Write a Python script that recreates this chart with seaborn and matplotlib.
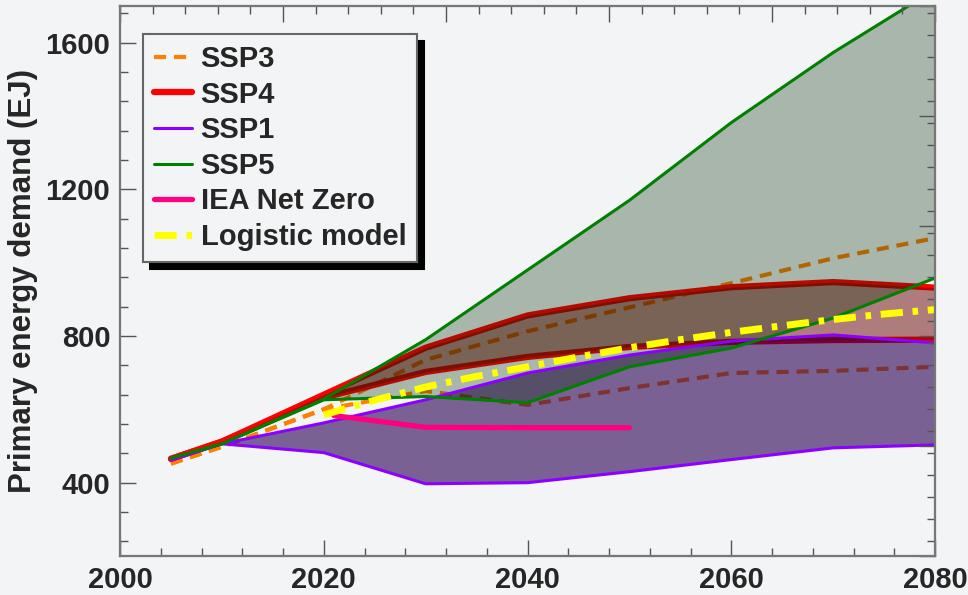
import numpy as np
import seaborn as sns
import matplotlib.pyplot as plt
from matplotlib.ticker import MultipleLocator, FixedLocator

# scenario ranges (EJ)
years = [2005, 2010, 2020, 2030, 2040, 2050, 2060, 2070, 2080]
ssp3_hi = [452, 498, 600, 735, 813, 878, 944, 1012, 1067]
ssp3_lo = [452, 498, 600, 650, 612, 658, 699, 705, 716]
ssp4_hi = [465, 512, 640, 768, 856, 903, 933, 947, 932]
ssp4_lo = [465, 512, 632, 702, 743, 770, 784, 789, 790]
ssp1_hi = [462, 506, 563, 626, 699, 748, 786, 803, 781]
ssp1_lo = [462, 506, 482, 397, 400, 430, 463, 495, 503]
ssp5_hi = [467, 506, 628, 790, 980, 1170, 1382, 1573, 1745]
ssp5_lo = [467, 506, 626, 635, 618, 716, 767, 849, 958]

iea_years = [2021, 2030, 2040, 2050]
iea_vals = [583, 551, 550, 550]

logistic_years = [2020, 2025, 2030, 2035, 2040, 2045, 2050, 2055, 2060, 2065, 2070, 2075, 2080]
logistic_vals = [585, 625, 661, 690, 716, 743, 768, 790, 810, 828, 845, 860, 872]

bg = '#f3f4f6'
sns.set_style('ticks')
plt.rcParams['font.family'] = ['Liberation Sans', 'DejaVu Sans']
plt.rcParams['font.weight'] = 'bold'

fig = plt.figure(figsize=(9.68, 5.95), dpi=100, facecolor=bg)
ax = fig.add_axes([0.124, 0.0655, 0.842, 0.9245])
ax.set_facecolor(bg)

# SSP3 and SSP4 lines sit under the shaded ranges
sns.lineplot(x=years, y=ssp3_hi, ax=ax, color='#ff8000', lw=3, ls=(0, (2.9, 1.9)), label='SSP3', zorder=1)
sns.lineplot(x=years, y=ssp3_lo, ax=ax, color='#ff8000', lw=3, ls=(0, (2.9, 1.9)), zorder=1)
sns.lineplot(x=years, y=ssp4_hi, ax=ax, color='#ff0000', lw=4.5, label='SSP4', zorder=1.2)
sns.lineplot(x=years, y=ssp4_lo, ax=ax, color='#ff0000', lw=4.5, zorder=1.2)

# shaded ranges
ax.fill_between(years, ssp4_lo, ssp4_hi, color='#6b0604', alpha=0.5, lw=0, zorder=1.5)
ax.fill_between(years, ssp1_lo, ssp1_hi, color='#290053', alpha=0.6, lw=0, zorder=1.6)
ax.fill_between(years, ssp5_lo, ssp5_hi, color='#002800', alpha=0.3, lw=0, zorder=1.7)

sns.lineplot(x=years, y=ssp1_hi, ax=ax, color='#8c00ff', lw=2.2, label='SSP1', zorder=3)
sns.lineplot(x=years, y=ssp1_lo, ax=ax, color='#8c00ff', lw=2.2, zorder=3)
sns.lineplot(x=years, y=ssp5_hi, ax=ax, color='#008000', lw=2.2, label='SSP5', zorder=3.1)
sns.lineplot(x=years, y=ssp5_lo, ax=ax, color='#008000', lw=2.2, zorder=3.1)
sns.lineplot(x=iea_years, y=iea_vals, ax=ax, color='#ff0080', lw=3.8, label='IEA Net Zero', zorder=3.2)
sns.lineplot(x=logistic_years, y=logistic_vals, ax=ax, color='#ffff00', lw=5,
             ls=(0, (3.2, 1.4, 0.8, 1.4)), label='Logistic model', zorder=3.3)

ax.set_xlim(2000, 2080)
ax.set_ylim(200, 1700)
ax.set_xticks([2000, 2020, 2040, 2060, 2080])
ax.set_yticks([400, 800, 1200, 1600])
ax.xaxis.set_minor_locator(MultipleLocator(4))
ax.yaxis.set_minor_locator(MultipleLocator(80))
ax.set_xlabel('')
ax.set_ylabel('Primary energy demand (EJ)', fontsize=22.5, fontweight='bold', labelpad=5)

# extra frame ticks on top and right
ax_r = ax.twinx()
ax_r.set_ylim(200, 1700)
ax_r.set_yticks(np.arange(200, 1701, 300))
ax_r.yaxis.set_minor_locator(MultipleLocator(60))
ax_r.tick_params(labelright=False)
ax_t = ax.twiny()
ax_t.set_xlim(2000, 2080)
ax_t.set_xticks(np.arange(2000, 2081, 16))
ax_t.xaxis.set_minor_locator(FixedLocator(np.arange(2000, 2080.01, 3.2)))
ax_t.tick_params(labeltop=False)

for a in (ax, ax_r, ax_t):
    a.tick_params(which='major', direction='in', length=11.5, width=1, color='#555555',
                  labelsize=21, pad=7)
    a.tick_params(which='minor', direction='in', length=6, width=1, color='#555555')
    for s in a.spines.values():
        s.set_color('#777777')
        s.set_linewidth(1.5)
for lab in ax.get_xticklabels() + ax.get_yticklabels():
    lab.set_fontweight('bold')

leg = ax.legend(loc='upper left', bbox_to_anchor=(0.028, 0.949), borderaxespad=0,
                fontsize=21, frameon=True, fancybox=False, framealpha=1,
                facecolor=bg, edgecolor='#666666', handlelength=1.3, handletextpad=0.3,
                labelspacing=0.26, borderpad=0.38,
                shadow={'ox': 5, 'oy': -5, 'color': 'black', 'alpha': 1})
leg.get_frame().set_linewidth(1.5)
for t in leg.get_texts():
    t.set_fontweight('bold')

fig.savefig('out.png', dpi=100, facecolor=bg)
